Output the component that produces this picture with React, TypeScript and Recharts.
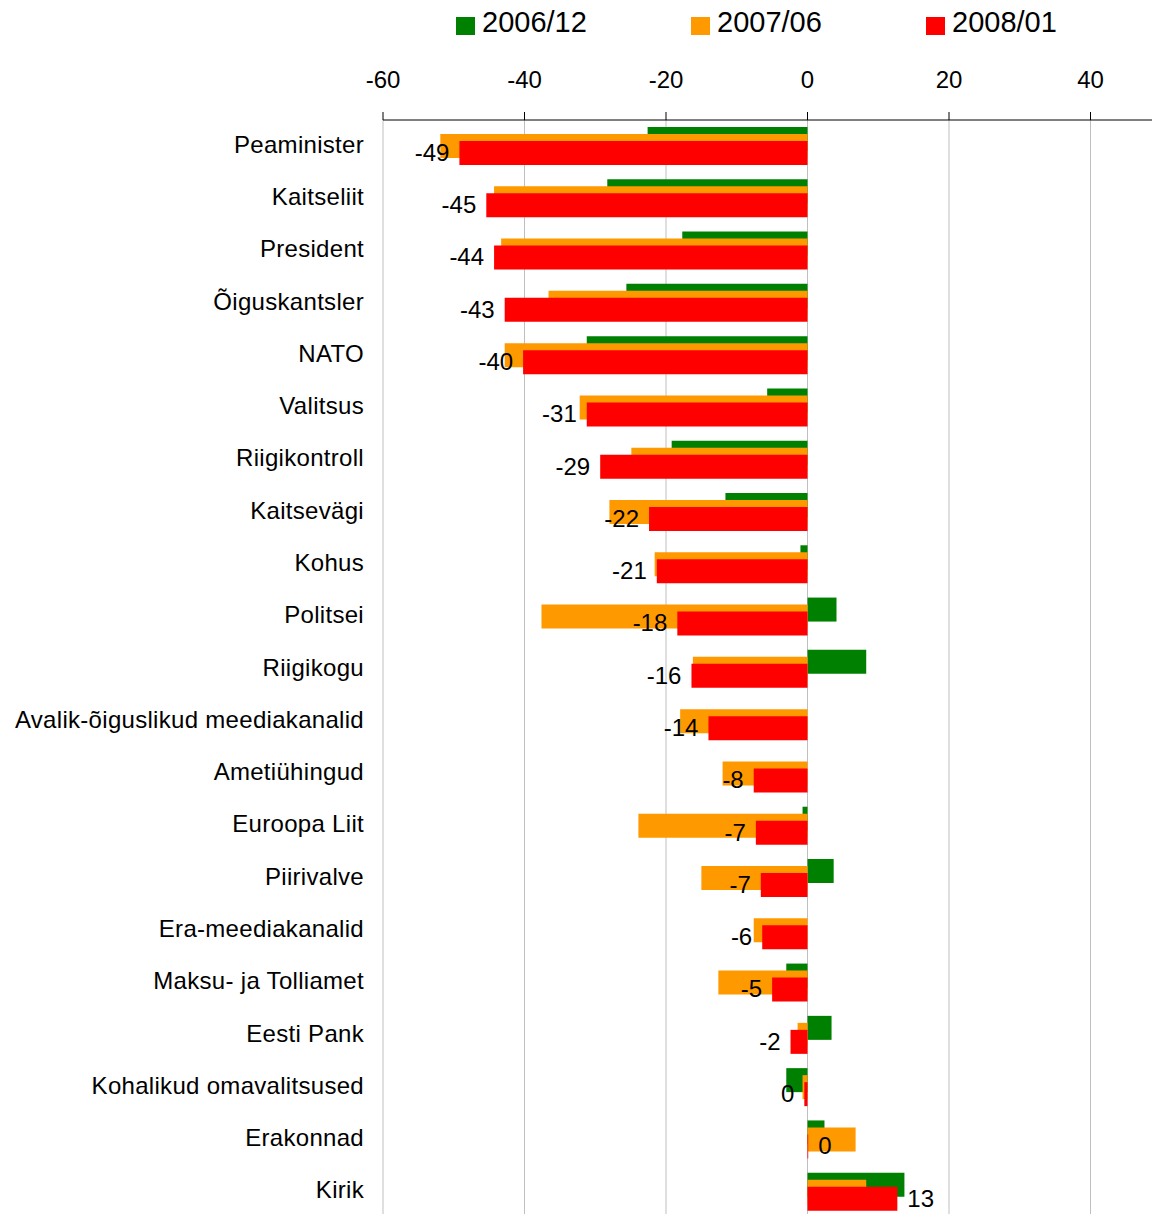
import { BarChart, Bar, XAxis, YAxis, CartesianGrid, Legend } from 'recharts';

const categories = [
  'Peaminister',
  'Kaitseliit',
  'President',
  'Õiguskantsler',
  'NATO',
  'Valitsus',
  'Riigikontroll',
  'Kaitsevägi',
  'Kohus',
  'Politsei',
  'Riigikogu',
  'Avalik-õiguslikud meediakanalid',
  'Ametiühingud',
  'Euroopa Liit',
  'Piirivalve',
  'Era-meediakanalid',
  'Maksu- ja Tolliamet',
  'Eesti Pank',
  'Kohalikud omavalitsused',
  'Erakonnad',
  'Kirik',
];

const values2006 = [
  -22.6, -28.3, -17.7, -25.6, -31.2, -5.7, -19.2, -11.6, -1.0, 4.1, 8.3, 0, 0, -0.7, 3.7, 0, -3.0,
  3.4, -3.0, 2.4, 13.7,
];
const values2007 = [
  -51.9, -44.3, -43.3, -36.6, -42.8, -32.2, -24.9, -28.0, -21.6, -37.6, -16.2, -18.0, -12.0, -23.9,
  -15.0, -7.6, -12.6, -1.4, -0.7, 6.8, 8.3,
];
const values2008 = [
  -49.2, -45.4, -44.3, -42.8, -40.2, -31.2, -29.3, -22.4, -21.3, -18.4, -16.4, -14.0, -7.6, -7.3,
  -6.6, -6.4, -5.0, -2.4, -0.45, 0.1, 12.7,
];

// the axis runs on past the right edge of the picture
const xDomain = [-60, 60];
const xTicks = [-60, -40, -20, 0, 20, 40];

const series = [
  { key: 's2006', name: '2006/12', color: '#008000' },
  { key: 's2007', name: '2007/06', color: '#ff9900' },
  { key: 's2008', name: '2008/01', color: '#ff0000' },
];

const data = categories.map((name, i) => ({
  name,
  s2006: values2006[i],
  s2007: values2007[i],
  s2008: values2008[i],
}));

const FONT = '"Liberation Sans", Arial, sans-serif';

// value label sits just outside the end of the red bar
const RedLabel = (props: any) => {
  const { x, y, width, height } = props;
  let value = props.value;
  if (Array.isArray(value)) value = value[1];
  if (value == null) return null;
  const a = Number(x);
  const b = Number(x) + Number(width);
  const neg = value < 0;
  const end = neg ? Math.min(a, b) : Math.max(a, b);
  return (
    <text
      x={neg ? end - 10 : end + 10}
      y={Number(y) + Number(height) / 2}
      dy="0.33em"
      textAnchor={neg ? 'end' : 'start'}
      fontSize={24}
      fontFamily={FONT}
      fill="#000"
    >
      {String(Math.round(value))}
    </text>
  );
};

const TopLegend = () => (
  <div style={{ position: 'relative', height: 48, width: 1152, fontFamily: FONT }}>
    {series.map((s, i) => (
      <div key={s.key} style={{ position: 'absolute', left: 456 + i * 235, top: 0 }}>
        <span
          style={{
            position: 'absolute',
            left: 0,
            top: 17,
            width: 19,
            height: 18,
            background: s.color,
          }}
        />
        <span
          style={{
            position: 'absolute',
            left: 26,
            top: 6,
            fontSize: 29,
            lineHeight: 'normal',
            whiteSpace: 'nowrap',
            color: '#000',
          }}
        >
          {s.name}
        </span>
      </div>
    ))}
  </div>
);

export default function App() {
  return (
    <div
      style={{
        position: 'absolute',
        left: 0,
        top: 0,
        width: 1152,
        height: 1214,
        overflow: 'hidden',
        background: '#fff',
      }}
    >
      <BarChart
        width={1232}
        height={1232}
        data={data}
        layout="vertical"
        margin={{ top: 0, right: 0, bottom: 14, left: 0 }}
        barSize={24}
        barGap={-17}
      >
        <Legend verticalAlign="top" align="left" content={<TopLegend />} />
        <CartesianGrid horizontal={false} stroke="#bfbfbf" />
        <XAxis
          type="number"
          orientation="top"
          domain={xDomain}
          ticks={xTicks}
          interval={0}
          height={72}
          tickSize={8}
          tickMargin={24}
          axisLine={{ stroke: '#000' }}
          tickLine={{ stroke: '#000' }}
          tick={{ fontSize: 24, fill: '#000', fontFamily: FONT }}
        />
        <YAxis
          type="category"
          dataKey="name"
          width={383}
          interval={0}
          axisLine={false}
          tickLine={false}
          tickSize={0}
          tickMargin={19}
          tick={{ fontSize: 24, fill: '#000', fontFamily: FONT, dy: -2, letterSpacing: 0.3 }}
        />
        {series.map((s) => (
          <Bar
            key={s.key}
            dataKey={s.key}
            name={s.name}
            fill={s.color}
            isAnimationActive={false}
            label={s.key === 's2008' ? RedLabel : undefined}
          />
        ))}
      </BarChart>
    </div>
  );
}
